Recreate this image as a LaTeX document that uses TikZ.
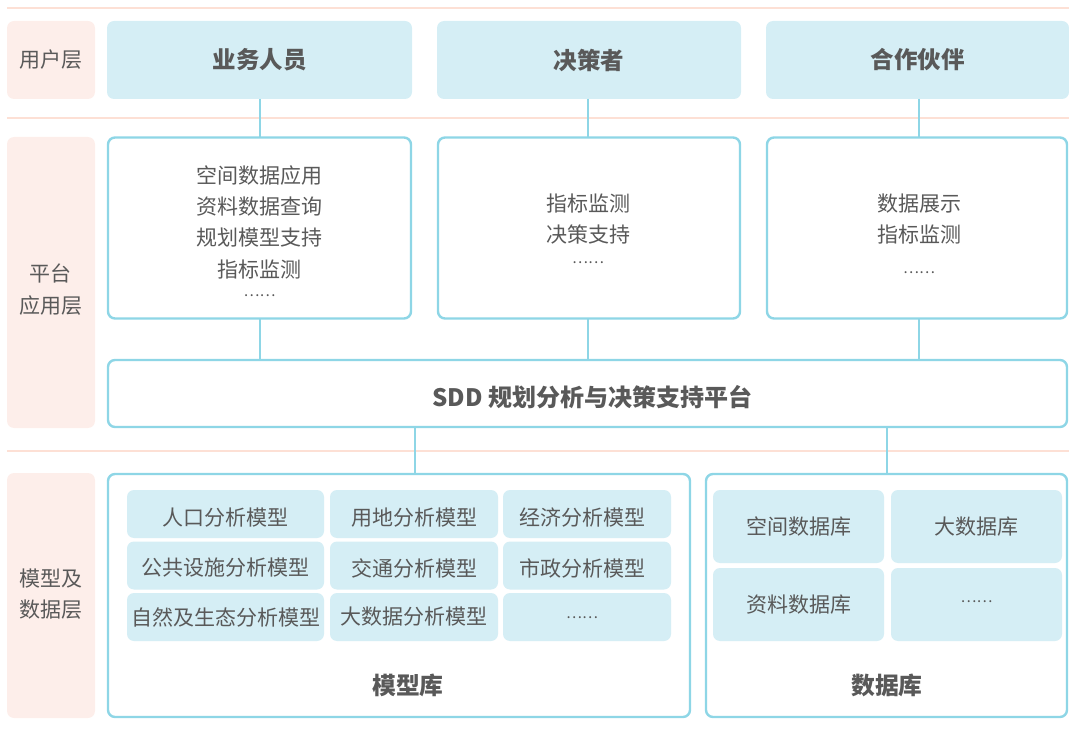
\documentclass[tikz,border=0pt]{standalone}
\usepackage{fontspec}
\setmainfont{Noto Sans CJK SC}
\definecolor{pinkline}{HTML}{FDE0D5}
\definecolor{pinkfill}{HTML}{FDEEEA}
\definecolor{cyanfill}{HTML}{D5EEF5}
\definecolor{cyanline}{HTML}{8ED6E6}
\definecolor{txt}{HTML}{595959}
\tikzset{
  sepline/.style={draw=pinkline, line width=2pt},
  layerbox/.style={fill=pinkfill, rounded corners=7pt, inner sep=0pt, outer sep=0pt, text=txt, font=\fontsize{21}{31}\selectfont, align=center},
  userbox/.style={fill=cyanfill, rounded corners=7pt, inner sep=0pt, outer sep=0pt, text=txt, font=\fontsize{23.5}{26}\selectfont\bfseries},
  framebox/.style={draw=cyanline, line width=2.4pt, fill=white, rounded corners=7pt, inner sep=0pt, outer sep=0pt, text=txt},
  cell/.style={fill=cyanfill, rounded corners=7pt, inner sep=0pt, outer sep=0pt, text=txt, font=\fontsize{21}{24}\selectfont},
  bodytext/.style={text=txt, font=\fontsize{21}{31.3}\selectfont, align=center, inner sep=0pt},
  dots/.style={text=txt, font=\fontsize{15}{18}\selectfont, inner sep=0pt},
  boldlabel/.style={text=txt, font=\fontsize{23.8}{26}\selectfont\bfseries, inner sep=0pt},
  link/.style={draw=cyanline, line width=2pt},
}
\begin{document}
\begin{tikzpicture}[x=1pt,y=-1pt]
\useasboundingbox (0,0) rectangle (1069,738);
% separator lines
\draw[sepline] (7,8) -- (1069,8);
\draw[sepline] (7,118) -- (1069,118);
\draw[sepline] (7,451) -- (1069,451);
% layer labels
\node[layerbox, minimum width=88pt, minimum height=78pt] (L1) at (51,60) {用户层};
\node[layerbox, minimum width=88pt, minimum height=291pt] (L2) at (51,282.5) {};
\node[bodytext] (L2t) at (51,289.5) {平台\\应用层};
\node[layerbox, minimum width=88pt, minimum height=245pt] (L3) at (51,595.5) {};
\node[bodytext] (L3t) at (51,594) {模型及\\数据层};
% user layer
\node[userbox, minimum width=305pt, minimum height=78pt] (U1) at (259.5,60) {业务人员};
\node[userbox, minimum width=304pt, minimum height=78pt] (U2) at (589,60) {决策者};
\node[userbox, minimum width=303pt, minimum height=78pt] (U3) at (917.5,60) {合作伙伴};
% application boxes
\node[framebox, minimum width=303pt, minimum height=181pt] (A1) at (259.5,228) {};
\node[framebox, minimum width=302pt, minimum height=181pt] (A2) at (589,228) {};
\node[framebox, minimum width=300pt, minimum height=181pt] (A3) at (917,228) {};
\node[bodytext] (A1t) at (259.5,222) {空间数据应用\\资料数据查询\\规划模型支持\\指标监测};
\node[dots] (A1d) at (259.5,296) {……};
\node[bodytext] (A2t) at (588,219) {指标监测\\决策支持};
\node[dots] (A2d) at (588,263) {……};
\node[bodytext] (A3t) at (919,219) {数据展示\\指标监测};
\node[dots] (A3d) at (919,273) {……};
% SDD platform
\node[framebox, minimum width=959pt, minimum height=67pt] (P) at (587.5,393.5) {};
\node[boldlabel, font=\fontsize{24}{26}\selectfont\bfseries] (Pt) at (592.5,397) {SDD 规划分析与决策支持平台};
% model / database frames
\node[framebox, minimum width=582pt, minimum height=243pt] (M) at (399,595.5) {};
\node[framebox, minimum width=361pt, minimum height=243pt] (D) at (886.5,595.5) {};
% model cells
\node[cell, minimum width=197pt, minimum height=48pt] (m11) at (225.5,514) {};
\node[cell, minimum width=168pt, minimum height=48pt] (m12) at (414,514) {};
\node[cell, minimum width=168pt, minimum height=48pt] (m13) at (587,514) {};
\node[cell, minimum width=197pt, minimum height=48pt] (m21) at (225.5,565.5) {};
\node[cell, minimum width=168pt, minimum height=48pt] (m22) at (414,565.5) {};
\node[cell, minimum width=168pt, minimum height=48pt] (m23) at (587,565.5) {};
\node[cell, minimum width=197pt, minimum height=48pt] (m31) at (225.5,617) {};
\node[cell, minimum width=168pt, minimum height=48pt] (m32) at (414,617) {};
\node[cell, minimum width=168pt, minimum height=48pt] (m33) at (587,617) {};
\node[bodytext] (m11t) at (225.5,518) {人口分析模型};
\node[bodytext] (m12t) at (414,518) {用地分析模型};
\node[bodytext] (m13t) at (582,518) {经济分析模型};
\node[bodytext] (m21t) at (225.5,568) {公共设施分析模型};
\node[bodytext] (m22t) at (414,568) {交通分析模型};
\node[bodytext] (m23t) at (582,568) {市政分析模型};
\node[bodytext] (m31t) at (225.5,617) {自然及生态分析模型};
\node[bodytext] (m32t) at (414,617) {大数据分析模型};
\node[dots] (m33t) at (582,618) {……};
\node[boldlabel] (Mlab) at (408,685) {模型库};
% database cells
\node[cell, minimum width=171pt, minimum height=73pt] (d11) at (798.5,526.5) {空间数据库};
\node[cell, minimum width=171pt, minimum height=73pt] (d12) at (976.5,526.5) {大数据库};
\node[cell, minimum width=171pt, minimum height=73pt] (d21) at (798.5,604.5) {资料数据库};
\node[cell, minimum width=171pt, minimum height=73pt] (d22) at (976.5,604.5) {};
\node[dots] (d22t) at (976.5,602) {……};
\node[boldlabel] (Dlab) at (887,685) {数据库};
% connectors
\draw[link] (U1.south -| 260,0) -- (A1.north -| 260,0);
\draw[link] (U2.south -| 588,0) -- (A2.north -| 588,0);
\draw[link] (U3.south -| 919,0) -- (A3.north -| 919,0);
\draw[link] (A1.south -| 260,0) -- (P.north -| 260,0);
\draw[link] (A2.south -| 588,0) -- (P.north -| 588,0);
\draw[link] (A3.south -| 919,0) -- (P.north -| 919,0);
\draw[link] (P.south -| 415,0) -- (M.north -| 415,0);
\draw[link] (P.south -| 887,0) -- (D.north -| 887,0);
\end{tikzpicture}
\end{document}
